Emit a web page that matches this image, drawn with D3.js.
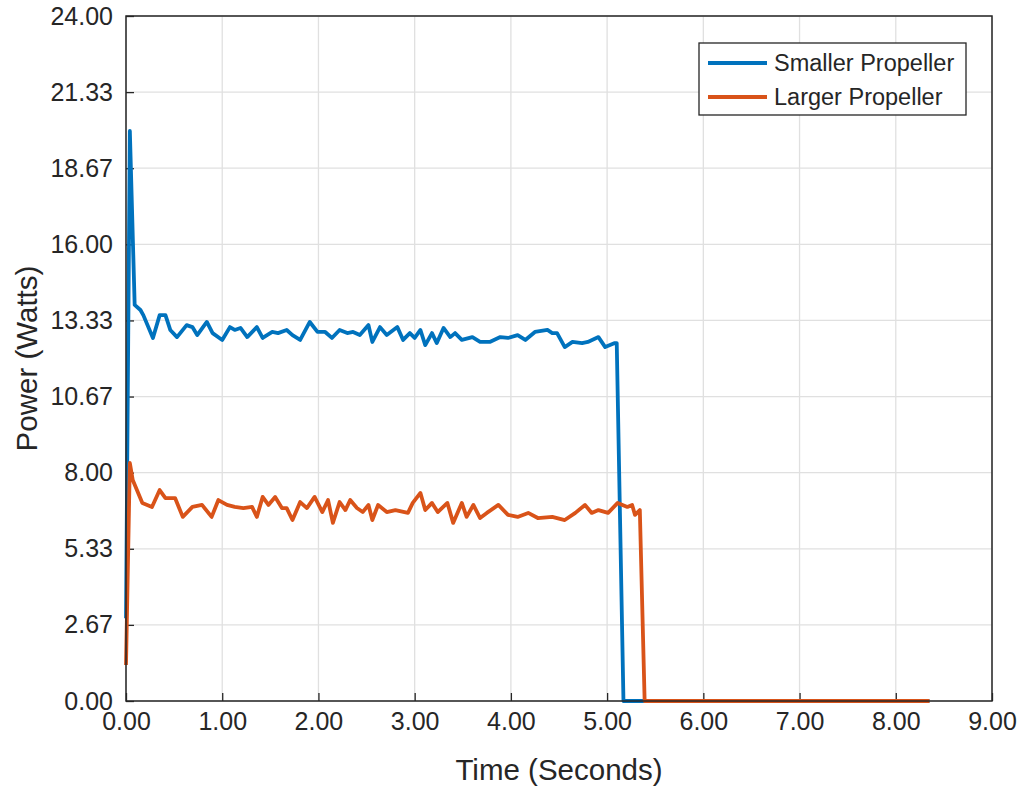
<!DOCTYPE html>
<html><head><meta charset="utf-8">
<script src="https://cdn.jsdelivr.net/npm/d3@7/dist/d3.min.js"></script>
<style>
html,body{margin:0;padding:0;background:#fff;}
text{font-family:"Liberation Sans",Arial,Helvetica,sans-serif;}
</style></head>
<body>
<svg id="chart" width="1024" height="788"></svg>
<script>
const seriesNames = ["Smaller Propeller", "Larger Propeller"];
const seriesColors = ["#0072BD", "#D95319"];

const smallerTime = [0.00,0.04,0.09,0.15,0.18,0.28,0.35,0.41,0.46,0.53,0.63,0.69,0.74,0.84,0.90,1.00,1.08,1.13,1.19,1.26,1.36,1.42,1.52,1.58,1.67,1.73,1.81,1.91,1.99,2.07,2.14,2.22,2.30,2.36,2.43,2.52,2.56,2.64,2.71,2.82,2.88,2.95,3.00,3.06,3.11,3.18,3.23,3.30,3.37,3.42,3.49,3.60,3.68,3.78,3.89,3.97,4.07,4.15,4.25,4.38,4.43,4.48,4.56,4.64,4.74,4.80,4.91,4.98,5.08,5.10,5.17,8.35];
const smallerPower = [2.90,19.97,13.88,13.70,13.52,12.72,13.52,13.52,13.00,12.75,13.17,13.10,12.82,13.28,12.89,12.65,13.10,13.00,13.07,12.75,13.10,12.72,12.93,12.89,13.00,12.82,12.65,13.28,12.93,12.93,12.72,13.00,12.89,12.93,12.82,13.17,12.58,13.10,12.82,13.10,12.65,12.89,12.72,13.00,12.47,12.89,12.54,13.07,12.75,12.89,12.65,12.75,12.58,12.58,12.75,12.72,12.82,12.65,12.93,13.00,12.89,12.89,12.40,12.58,12.54,12.58,12.75,12.40,12.54,12.54,0.00,0.00];

const largerTime = [0.00,0.04,0.07,0.17,0.27,0.35,0.41,0.51,0.59,0.69,0.79,0.89,0.96,1.05,1.13,1.22,1.31,1.36,1.42,1.48,1.55,1.62,1.67,1.73,1.81,1.88,1.96,2.04,2.10,2.15,2.22,2.28,2.33,2.40,2.46,2.52,2.56,2.62,2.71,2.80,2.93,2.98,3.06,3.11,3.18,3.24,3.34,3.40,3.49,3.54,3.61,3.68,3.75,3.87,3.97,4.07,4.18,4.28,4.43,4.56,4.67,4.77,4.84,4.91,5.01,5.11,5.21,5.26,5.29,5.34,5.39,8.35];
const largerPower = [1.26,8.34,7.74,6.94,6.80,7.39,7.11,7.11,6.45,6.80,6.87,6.45,7.04,6.87,6.80,6.76,6.80,6.45,7.15,6.87,7.15,6.76,6.76,6.34,6.97,6.76,7.15,6.62,7.04,6.24,6.97,6.69,7.04,6.76,6.62,6.87,6.34,6.87,6.62,6.69,6.59,6.94,7.29,6.69,6.94,6.62,6.94,6.24,6.94,6.45,6.87,6.41,6.59,6.87,6.52,6.45,6.59,6.41,6.45,6.34,6.59,6.87,6.59,6.69,6.59,6.94,6.80,6.87,6.52,6.69,0.00,0.00];

const xTicks = [0,1,2,3,4,5,6,7,8,9];
const yTicks = [0, 8/3, 16/3, 8, 32/3, 40/3, 16, 56/3, 64/3, 24];
const xLabel = "Time (Seconds)";
const yLabel = "Power (Watts)";

const svg = d3.select("#chart");
const L = 126, R = 992, T = 16, B = 701;
const x = d3.scaleLinear().domain([0, 9]).range([L, R]);
const y = d3.scaleLinear().domain([0, 24]).range([B, T]);
const axisColor = "#262626";
const fs = 25;

// grid
svg.append("g").selectAll("line").data(xTicks).join("line")
  .attr("x1", d => x(d)).attr("x2", d => x(d)).attr("y1", T).attr("y2", B)
  .attr("stroke", "#e0e0e0").attr("stroke-width", 1.3);
svg.append("g").selectAll("line").data(yTicks).join("line")
  .attr("y1", d => y(d)).attr("y2", d => y(d)).attr("x1", L).attr("x2", R)
  .attr("stroke", "#e0e0e0").attr("stroke-width", 1.3);

// axes
const xAxis = d3.axisBottom(x).tickValues(xTicks).tickSize(-8).tickPadding(11).tickFormat(d3.format(".2f"));
const yAxis = d3.axisLeft(y).tickValues(yTicks).tickSize(-8).tickPadding(13).tickFormat(d3.format(".2f"));
const gx = svg.append("g").attr("transform", `translate(0,${B})`).call(xAxis);
const gy = svg.append("g").attr("transform", `translate(${L},0)`).call(yAxis);
[gx, gy].forEach(g => {
  g.select(".domain").remove();
  g.selectAll(".tick line").attr("stroke", axisColor).attr("stroke-width", 1.3);
  g.selectAll(".tick text").attr("fill", "#262626").style("font-size", fs + "px").style("font-family", "'Liberation Sans', Arial, sans-serif");
});
gx.selectAll(".tick text").attr("dy", "0.71em");

// lines
const line = d3.line().x(d => x(d[0])).y(d => y(d[1]));
const series = [
  smallerTime.map((t, i) => [t, smallerPower[i]]),
  largerTime.map((t, i) => [t, largerPower[i]])
];
series.forEach((s, i) => {
  svg.append("path").datum(s).attr("d", line).attr("fill", "none")
    .attr("stroke", seriesColors[i]).attr("stroke-width", 3.8).attr("stroke-linejoin", "round");
});

// box
svg.append("rect").attr("x", L).attr("y", T).attr("width", R - L).attr("height", B - T)
  .attr("fill", "none").attr("stroke", axisColor).attr("stroke-width", 1.5);

// labels
svg.append("text").attr("x", (L + R) / 2).attr("y", 780).attr("text-anchor", "middle")
  .attr("fill", "#262626").style("font-size", "29.5px").text(xLabel);
svg.append("text").attr("transform", `translate(37,${(T + B) / 2}) rotate(-90)`).attr("text-anchor", "middle")
  .attr("fill", "#262626").style("font-size", "29.5px").text(yLabel);

// legend
const lg = svg.append("g");
lg.append("rect").attr("x", 699).attr("y", 43).attr("width", 267).attr("height", 72)
  .attr("fill", "#fff").attr("stroke", axisColor).attr("stroke-width", 1.3);
seriesNames.forEach((n, i) => {
  const yy = 63 + i * 34;
  lg.append("line").attr("x1", 708).attr("x2", 767).attr("y1", yy).attr("y2", yy)
    .attr("stroke", seriesColors[i]).attr("stroke-width", 3.8);
  lg.append("text").attr("x", 774).attr("y", yy).attr("dy", "0.35em")
    .attr("fill", "#262626").style("font-size", "23.5px").text(n);
});
</script>
</body></html>
